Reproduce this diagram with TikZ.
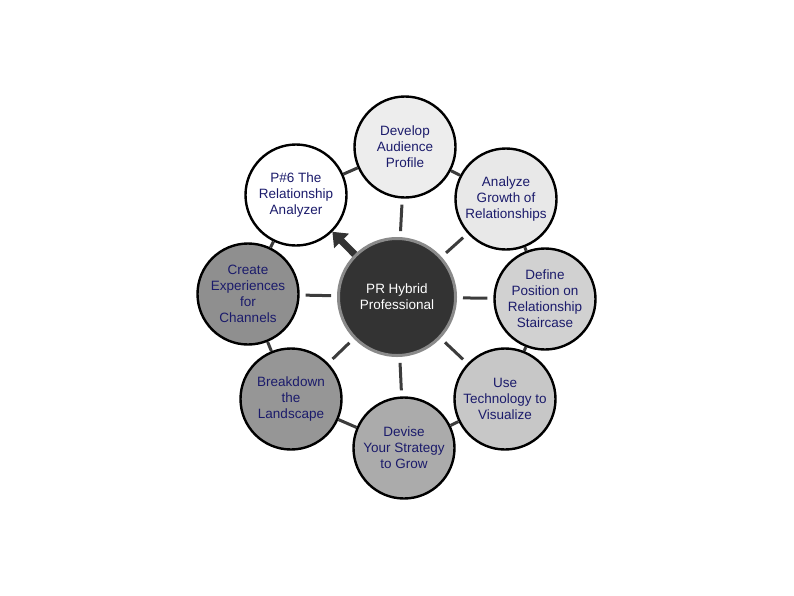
\documentclass[tikz,border=0pt]{standalone}
\usepackage{fontspec}
\setmainfont{Liberation Sans}
\usetikzlibrary{arrows.meta}

\definecolor{labelblue}{HTML}{1B1B6B}
\definecolor{hubfill}{HTML}{333333}
\definecolor{hubrim}{HTML}{8A8A8A}
\definecolor{linkgray}{HTML}{3C3C3C}

\begin{document}
\begin{tikzpicture}[x=1pt,y=-1pt,
        stage/.style={
        circle, draw=black, line width=2.4pt,
        inner sep=0pt, minimum size=101pt,
        align=center, text=labelblue,
        font=\fontsize{13.5}{16}\selectfont},
        hub/.style={
        circle, draw=hubrim, fill=hubfill, line width=3pt,
        inner sep=0pt, minimum size=117pt,
        align=center, text=white,
        font=\fontsize{13.5}{16}\selectfont},
        link/.style={draw=linkgray, line width=3pt},
        spoke/.style={link, shorten <=6pt, shorten >=6pt},
        ]

        \useasboundingbox[fill=white] (0,0) rectangle (794,595);

        \node (hub) [hub] at (397,297){PR Hybrid\\Professional};

        \node (dev) [stage, fill=black!7]  at (405,147){Develop\\Audience\\Profile};
        \node (ana) [stage, fill=black!9]  at (506,199){Analyze\\Growth of\\Relationships};
        \node (def) [stage, fill=black!18] at (545,299){Define\\Position on\\Relationship\\Staircase};
        \node (tec) [stage, fill=black!22] at (505,399){Use\\Technology to\\Visualize};
        \node (dvs) [stage, fill=black!33] at (404,448){Devise\\Your Strategy\\to Grow};
        \node (brk) [stage, fill=black!41] at (291,399){Breakdown\\the\\Landscape};
        \node (cre) [stage, fill=black!44] at (248,294){Create\\Experiences\\for\\Channels};
        \node (ana6) [stage, fill=white]   at (296,195){P\#6 The\\Relationship\\Analyzer};

        % ring between the stages
        \draw [link] (ana6) -- (dev) (dev) -- (ana) (ana) -- (def) (def) -- (tec)
              (tec) -- (dvs) (dvs) -- (brk) (brk) -- (cre) (cre) -- (ana6);

        % spokes from the hub
        \foreach \s in {dev,ana,def,tec,dvs,brk,cre}
            \draw [spoke] (hub) -- (\s);
        \draw [draw=hubfill, line width=7pt, -{Triangle[length=13pt,width=20pt]}] (hub) -- (ana6);
    \end{tikzpicture}
\end{document}
